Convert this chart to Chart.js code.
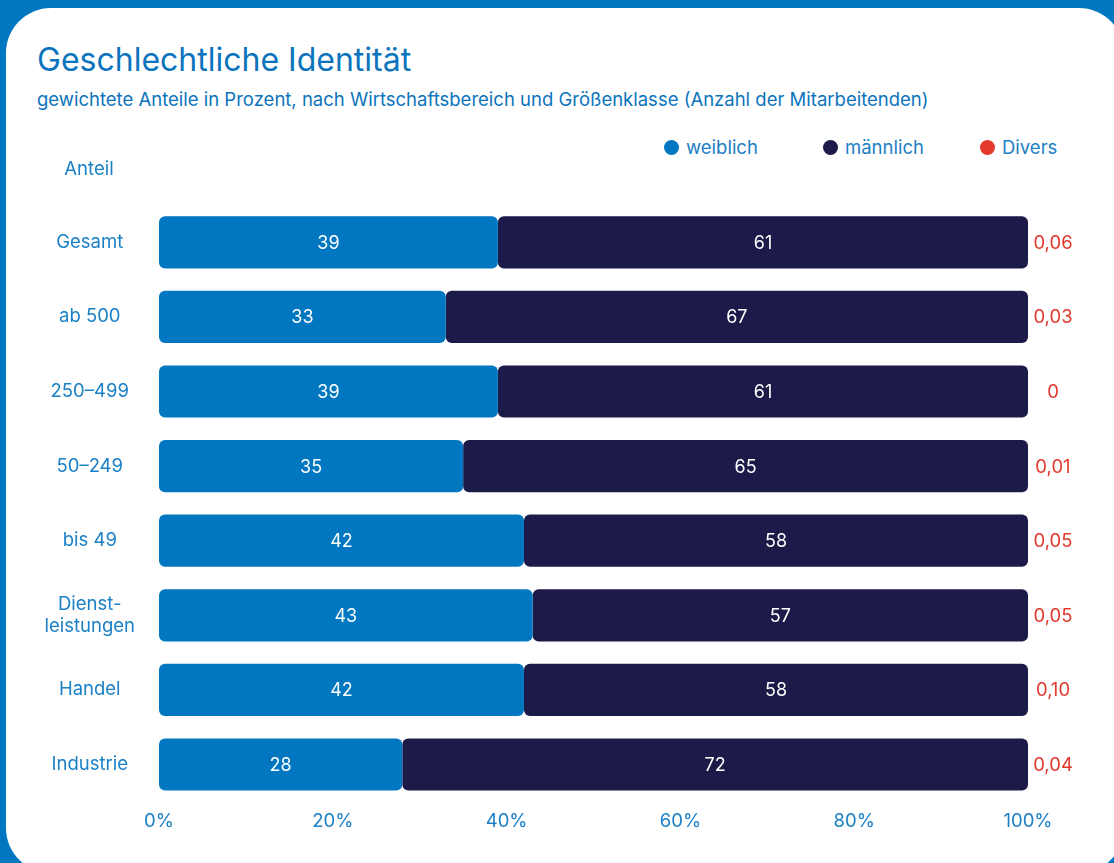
<!DOCTYPE html>
<html lang="de">
<head>
<meta charset="utf-8">
<title>Geschlechtliche Identität</title>
<script src="https://cdn.jsdelivr.net/npm/chart.js@4.4.1/dist/chart.umd.min.js"></script>
<style>
  html, body { margin: 0; padding: 0; }
  body {
    width: 1114px; height: 863px; overflow: hidden; position: relative;
    background: #0077c0;
    font-family: Inter, "Open Sans", sans-serif;
  }
  .card {
    position: absolute; left: 6px; top: 8px; width: 1118px; height: 865px;
    background: #fff; border-radius: 45px;
  }
  h1 {
    position: absolute; left: 37px; top: 40px; margin: 0;
    font-weight: 400; font-size: 32px; color: #0b74bd;
  }
  .sub {
    position: absolute; left: 37px; top: 88px; margin: 0;
    font-size: 18.5px; color: #0b74bd;
  }
  .legend { position: absolute; top: 136px; left: 0; width: 1114px; height: 22px; }
  .legend span {
    position: absolute; font-size: 18.5px; color: #1b80c6; line-height: 22px;
    padding-left: 22px;
  }
  .legend span::before {
    content: ""; position: absolute; left: 0; top: 4px;
    width: 15px; height: 15px; border-radius: 50%; background: var(--c);
  }
  #chart { position: absolute; left: 0; top: 0; }
</style>
</head>
<body>
<div class="card"></div>
<h1>Geschlechtliche Identität</h1>
<p class="sub">gewichtete Anteile in Prozent, nach Wirtschaftsbereich und Größenklasse (Anzahl der Mitarbeitenden)</p>
<div class="legend">
  <span style="left:664px; --c:#0077c0">weiblich</span>
  <span style="left:823px; --c:#1b1a48">männlich</span>
  <span style="left:980px; --c:#e3392c">Divers</span>
</div>
<canvas id="chart" width="1114" height="863"></canvas>

<script>
const categories = ['Gesamt', 'ab 500', '250–499', '50–249', 'bis 49', ['Dienst-', 'leistungen'], 'Handel', 'Industrie'];
const weiblich = [39, 33, 39, 35, 42, 43, 42, 28];
const maennlich = [61, 67, 61, 65, 58, 57, 58, 72];
const divers = ['0,06', '0,03', '0', '0,01', '0,05', '0,05', '0,10', '0,04'];
const xTicks = [0, 20, 40, 60, 80, 100];

const BLUE = '#0077c0';
const NAVY = '#1b1a48';
const RED = '#e3392c';
const LABEL = '#1b80c6';
const FONT = 'Inter, "Open Sans", sans-serif';

// Werte in die Balken, Divers-Anteil rechts daneben, "Anteil" über der Achse
const barLabels = {
  id: 'barLabels',
  afterDatasetsDraw(chart) {
    const ctx = chart.ctx;
    const area = chart.chartArea;
    ctx.save();
    ctx.font = '18px ' + FONT;
    ctx.textBaseline = 'middle';
    ctx.textAlign = 'center';
    chart.data.datasets.forEach((ds, i) => {
      chart.getDatasetMeta(i).data.forEach((bar, j) => {
        ctx.fillStyle = '#ffffff';
        ctx.fillText(ds.data[j], (bar.x + bar.base) / 2, bar.y + 1);
      });
    });
    ctx.font = '18.5px ' + FONT;
    ctx.fillStyle = RED;
    chart.getDatasetMeta(1).data.forEach((bar, j) => {
      ctx.fillText(divers[j], area.right + 25, bar.y + 1);
    });
    ctx.fillStyle = LABEL;
    ctx.fillText('Anteil', 89, area.top - 36);
    ctx.restore();
  }
};

const corners = { topLeft: 6, topRight: 6, bottomLeft: 6, bottomRight: 6 };

new Chart(document.getElementById('chart'), {
  type: 'bar',
  data: {
    labels: categories,
    datasets: [
      { label: 'weiblich', data: weiblich, backgroundColor: BLUE },
      { label: 'männlich', data: maennlich, backgroundColor: NAVY }
    ]
  },
  options: {
    indexAxis: 'y',
    responsive: false,
    animation: false,
    events: [],
    layout: { padding: { left: 30, right: 86, top: 205, bottom: 21 } },
    datasets: {
      bar: {
        barPercentage: 0.7,
        categoryPercentage: 1,
        borderRadius: corners,
        borderSkipped: false
      }
    },
    scales: {
      x: {
        stacked: true,
        min: 0,
        max: 100,
        grid: { display: false, drawTicks: false },
        border: { display: false },
        afterBuildTicks: (axis) => { axis.ticks = xTicks.map(v => ({ value: v })); },
        ticks: {
          padding: 9,
          color: LABEL,
          font: { family: FONT, size: 18.5 },
          callback: (v) => v + '%'
        }
      },
      y: {
        stacked: true,
        grid: { display: false, drawTicks: false },
        border: { display: false },
        afterFit: (axis) => { axis.width = 129; },
        ticks: {
          crossAlign: 'center',
          padding: 24,
          color: LABEL,
          font: { family: FONT, size: 18.5, lineHeight: 1.2 }
        }
      }
    },
    plugins: {
      legend: { display: false },
      tooltip: { enabled: false }
    }
  },
  plugins: [barLabels]
});
</script>
</body>
</html>
